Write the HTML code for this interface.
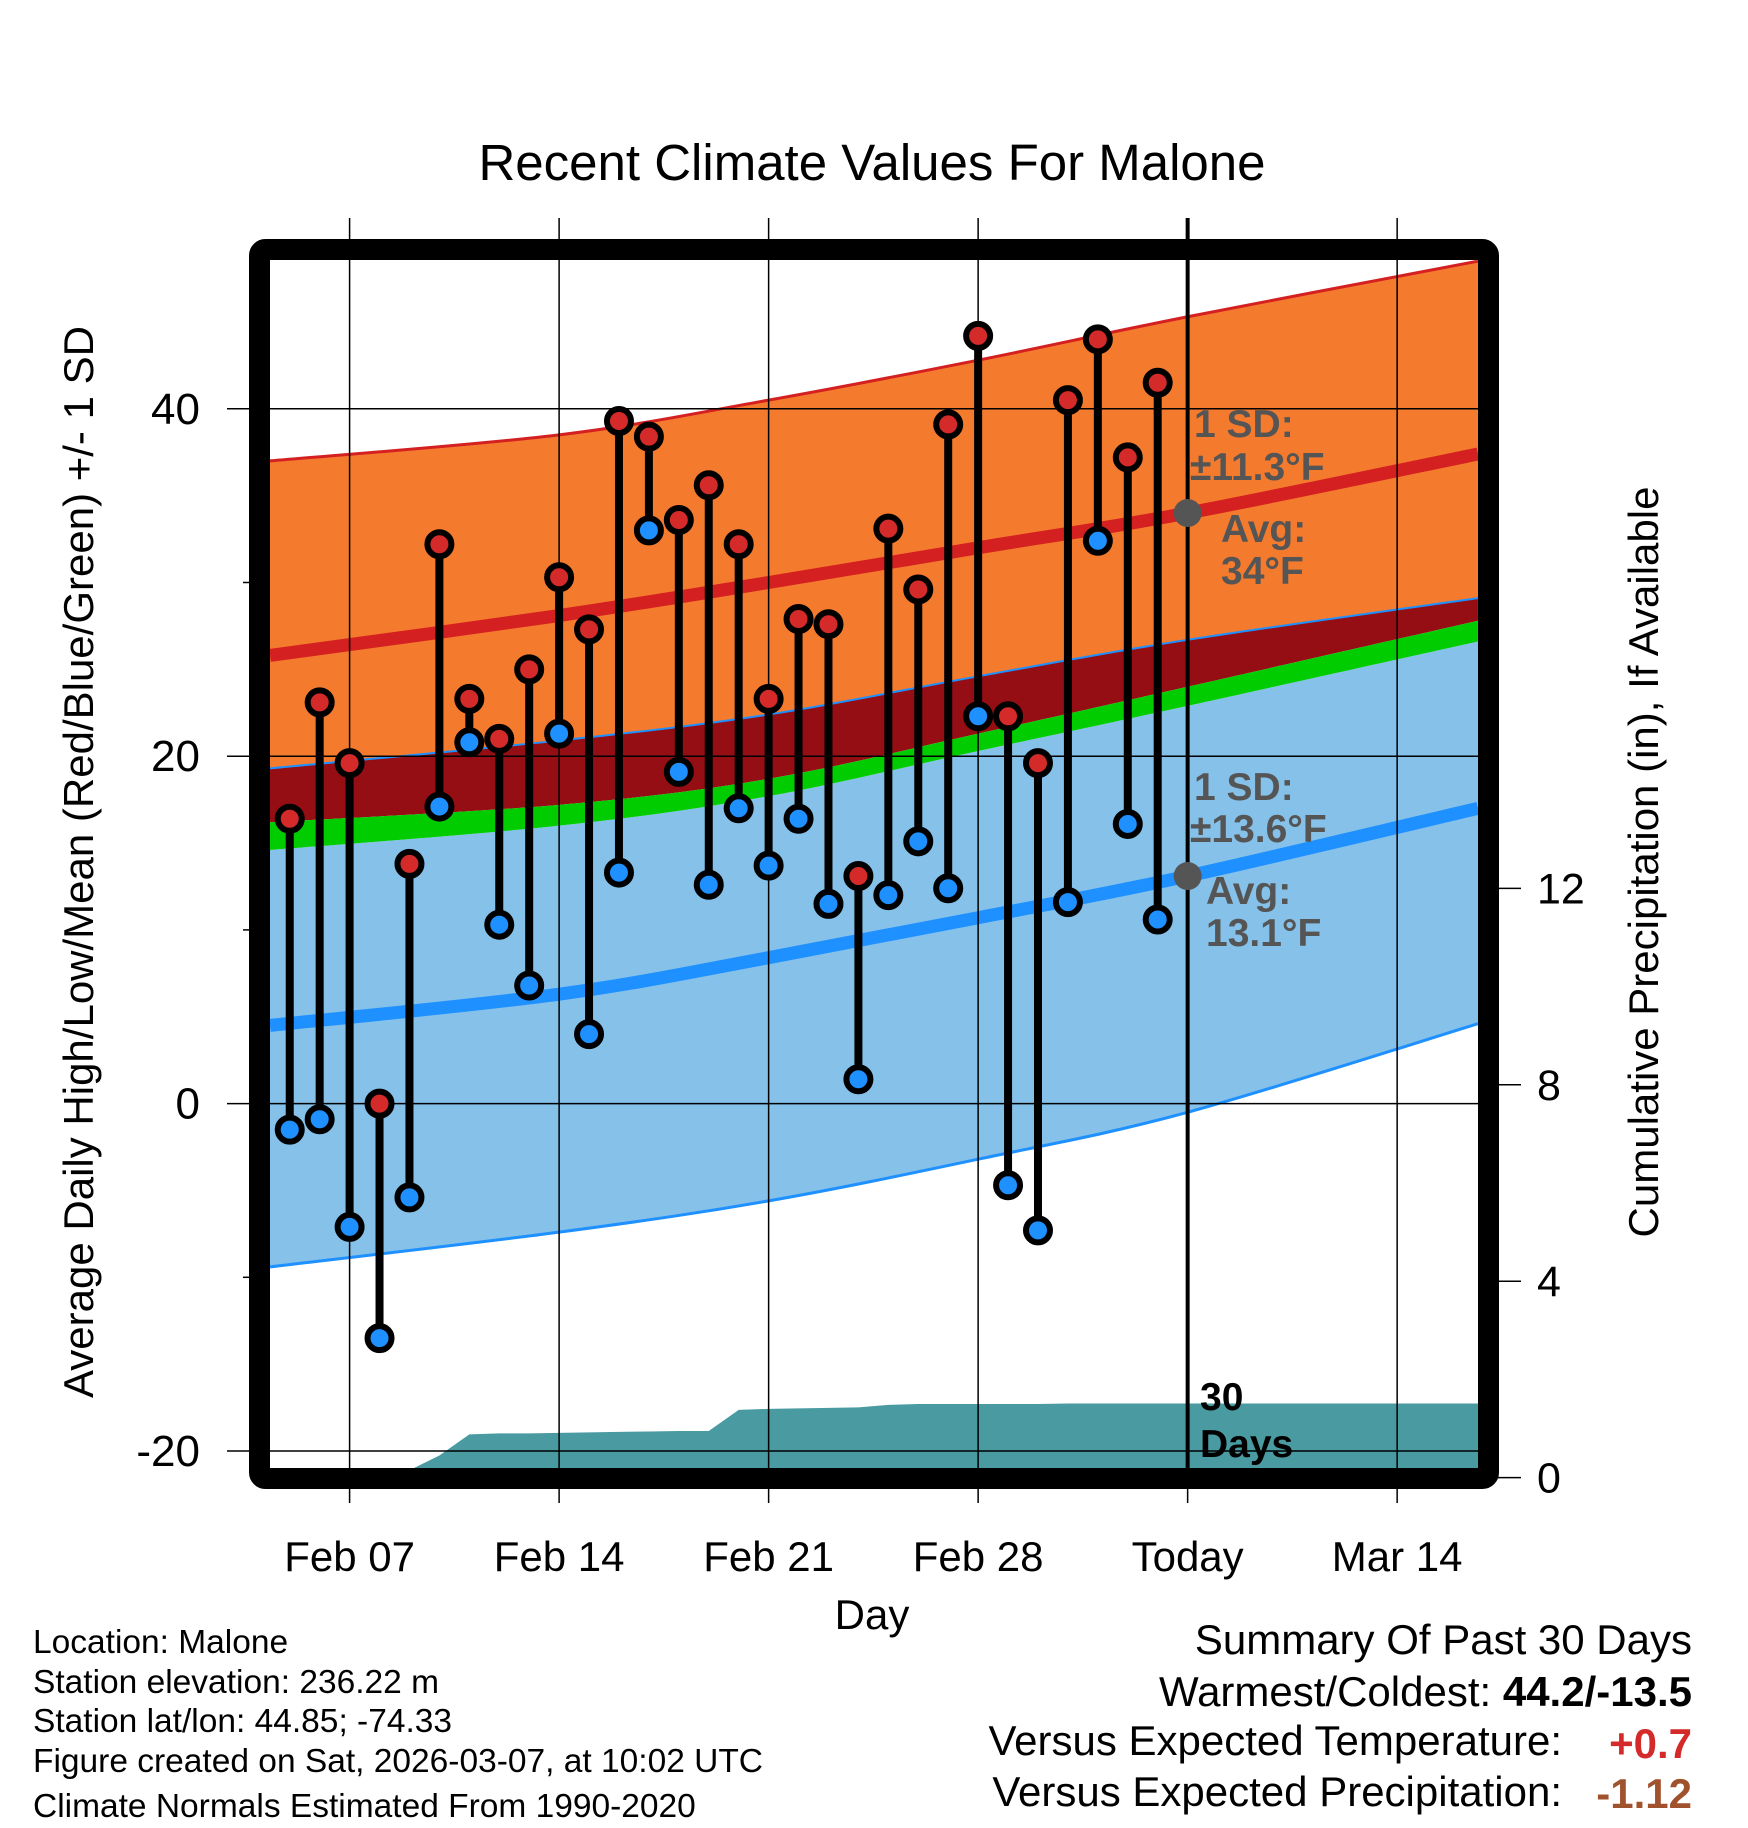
<!DOCTYPE html>
<html><head><meta charset="utf-8"><style>
html,body{margin:0;padding:0;background:#fff}
svg{display:block;font-family:"Liberation Sans",Arial,sans-serif}
</style></head><body>
<svg id="chart" width="1748" height="1828" viewBox="0 0 1748 1828" xmlns="http://www.w3.org/2000/svg">
<defs><clipPath id="plotclip"><rect x="270" y="260" width="1208" height="1208"/></clipPath></defs>
<text x="872" y="180" font-size="51" text-anchor="middle">Recent Climate Values For Malone</text>
<g id="bands" clip-path="url(#plotclip)"></g>
<g id="grid"></g>
<g id="marks" clip-path="url(#plotclip)"></g>
<rect x="259.5" y="249.5" width="1229" height="1229" fill="none" stroke="#000" stroke-width="21" stroke-linejoin="round" rx="6"/>
<g id="pts"></g>
<g id="annot" font-weight="bold" font-size="39" fill="#555">
<text x="1194" y="437">1 SD:</text>
<text x="1190" y="480">±11.3°F</text>
<text x="1221" y="542">Avg:</text>
<text x="1221" y="584">34°F</text>
<text x="1194" y="800">1 SD:</text>
<text x="1190" y="842">±13.6°F</text>
<text x="1206" y="904">Avg:</text>
<text x="1206" y="946">13.1°F</text>
<text x="1200" y="1410" fill="#000">30</text>
<text x="1200" y="1457" fill="#000">Days</text>
</g>
<text transform="translate(93,862) rotate(-90)" font-size="42" text-anchor="middle">Average Daily High/Low/Mean (Red/Blue/Green) +/- 1 SD</text>
<text transform="translate(1658,862) rotate(-90)" font-size="42" text-anchor="middle">Cumulative Precipitation (in), If Available</text>
<text x="872" y="1629" font-size="42" text-anchor="middle">Day</text>
<g font-size="33.5">
<text x="33" y="1653">Location: Malone</text>
<text x="33" y="1693">Station elevation: 236.22 m</text>
<text x="33" y="1732">Station lat/lon: 44.85; -74.33</text>
<text x="33" y="1772">Figure created on Sat, 2026-03-07, at 10:02 UTC</text>
<text x="33" y="1817">Climate Normals Estimated From 1990-2020</text>
</g>
<g font-size="42" text-anchor="end">
<text x="1692" y="1654">Summary Of Past 30 Days</text>
<text x="1692" y="1706">Warmest/Coldest: <tspan font-weight="bold">44.2/-13.5</tspan></text>
<text x="1562" y="1755">Versus Expected Temperature:</text>
<text x="1692" y="1758" font-weight="bold" fill="#d42a2a">+0.7</text>
<text x="1562" y="1806">Versus Expected Precipitation:</text>
<text x="1692" y="1808" font-weight="bold" fill="#a0522d">-1.12</text>
</g>
</svg>
<script>
// ---- data ----
const bandDays = [-2.66, 7, 14, 21, 28, 37.7];
const highUpper = [37.0, 38.5, 40.5, 42.8, 45.3, 48.5];
const highMean = [25.8, 28.1, 30.0, 32.0, 34.0, 37.4];
const highLower = [19.3, 20.9, 22.4, 24.6, 26.7, 29.1];
const greenTop = [16.2, 17.2, 18.7, 21.3, 24.0, 27.8];
const greenBot = [14.6, 16.0, 17.7, 20.3, 22.9, 26.6];
const lowMean = [4.5, 6.3, 8.4, 10.7, 13.1, 17.0];
const lowLower = [-9.4, -7.4, -5.6, -3.2, -0.5, 4.6];
const obsDays = [-2,-1,0,1,2,3,4,5,6,7,8,9,10,11,12,13,14,15,16,17,18,19,20,21,22,23,24,25,26,27];
const highs = [16.4,23.1,19.6,0.0,13.8,32.2,23.3,21.0,25.0,30.3,27.3,39.3,38.4,33.6,35.6,32.2,23.3,27.9,27.6,13.1,33.1,29.6,39.1,44.2,22.3,19.6,40.5,44.0,37.2,41.5];
const lows = [-1.5,-0.9,-7.1,-13.5,-5.4,17.1,20.8,10.3,6.8,21.3,4.0,13.3,33.0,19.1,12.6,17.0,13.7,16.4,11.5,1.4,12.0,15.1,12.4,22.3,-4.7,-7.3,11.6,32.4,16.1,10.6];
const precip = [0,0,0,0,0.15,0.45,0.88,0.90,0.90,0.91,0.92,0.93,0.94,0.95,0.95,1.38,1.40,1.41,1.42,1.43,1.48,1.50,1.50,1.50,1.50,1.50,1.51,1.51,1.51,1.51];
const xTickDays = [0,7,14,21,28,35];
const xTickLabels = ["Feb 07","Feb 14","Feb 21","Feb 28","Today","Mar 14"];
const yTicks = [40,20,0,-20];
const yMinor = [30,10,-10];
const pTicks = [0,4,8,12];
const todayDay = 28;
const highAvgToday = 34.0, lowAvgToday = 13.1;
// ---- scales ----
const X = d => 349.6 + 29.93*d;
const Y = v => 1103.6 - 17.37*v;
const P = p => 1477.6 - 49.1*p;
const NS = "http://www.w3.org/2000/svg";
function mk(tag, attrs, parent){const e=document.createElementNS(NS,tag);for(const k in attrs)e.setAttribute(k,attrs[k]);parent.appendChild(e);return e;}
// smooth curve (Catmull-Rom) through band points
function pts(vals){return bandDays.map((d,i)=>[X(d),Y(vals[i])]);}
function crPath(p, move){
  let s=(move?"M":"L")+p[0][0]+","+p[0][1];
  for(let i=0;i<p.length-1;i++){
    const p0=p[Math.max(i-1,0)],p1=p[i],p2=p[i+1],p3=p[Math.min(i+2,p.length-1)];
    const c1=[p1[0]+(p2[0]-p0[0])/6,p1[1]+(p2[1]-p0[1])/6];
    const c2=[p2[0]-(p3[0]-p1[0])/6,p2[1]-(p3[1]-p1[1])/6];
    s+=" C"+c1[0]+","+c1[1]+" "+c2[0]+","+c2[1]+" "+p2[0]+","+p2[1];
  }
  return s;
}
function line(vals){return crPath(pts(vals),true);}
function area(up,lo){return crPath(pts(up),true)+" "+crPath(pts(lo).reverse(),false)+" Z";}
const bands=document.getElementById('bands');
let e;
e=mk('path',{d:area(greenBot,lowLower),fill:'#85c1e9'},bands);


e=mk('path',{d:area(highLower,greenTop),fill:'#940e14'},bands);


e=mk('path',{d:area(greenTop,greenBot),fill:'#00cc00'},bands);


e=mk('path',{d:area(highUpper,highLower),fill:'#f47a2e'},bands);


e=mk('path',{d:line(highUpper),fill:'none',stroke:'#d42020','stroke-width':3},bands);


e=mk('path',{d:line(highLower),fill:'none',stroke:'#1e90ff','stroke-width':2},bands);


e=mk('path',{d:line(lowLower),fill:'none',stroke:'#1e90ff','stroke-width':3},bands);


e=mk('path',{d:line(highMean),fill:'none',stroke:'#d42020','stroke-width':13},bands);


e=mk('path',{d:line(lowMean),fill:'none',stroke:'#1e90ff','stroke-width':13},bands);


// precip area
let pp=[X(obsDays[0])+","+P(0)];
obsDays.forEach((d,i)=>pp.push(X(d)+","+P(precip[i])));
pp.push("1478,"+P(precip[precip.length-1]));pp.push("1478,"+P(0));
e=mk('polygon',{points:pp.join(" "),fill:'#4a9aa2'},bands);


// grid
const grid=document.getElementById('grid');
xTickDays.forEach((d,i)=>{
  e=mk('line',{x1:X(d),x2:X(d),y1:218,y2:1503,stroke:'#000','stroke-width':1.5},grid);
  
  
  e=mk('text',{x:X(d),y:1571,'font-size':42,'text-anchor':'middle'},grid);
  e.textContent=xTickLabels[i];
  
  
});
yTicks.forEach(v=>{
  e=mk('line',{x1:227,x2:1478,y1:Y(v),y2:Y(v),stroke:'#000','stroke-width':1.5},grid);
  
  
  e=mk('text',{x:200,y:Y(v)+15,'font-size':44,'text-anchor':'end'},grid);
  e.textContent=v;
  
  
});
yMinor.forEach(v=>{
  e=mk('line',{x1:243,x2:255,y1:Y(v),y2:Y(v),stroke:'#000','stroke-width':1.5},grid);
  
  
});
pTicks.forEach(p=>{
  e=mk('line',{x1:1498,x2:1521,y1:P(p),y2:P(p),stroke:'#000','stroke-width':1.5},grid);
  
  
  e=mk('text',{x:1537,y:P(p)+15,'font-size':43},grid);
  e.textContent=p;
  
  
});
e=mk('line',{x1:X(todayDay),x2:X(todayDay),y1:218,y2:1478,stroke:'#000','stroke-width':4},grid);


// obs
const ptsG=document.getElementById('pts');
obsDays.forEach((d,i)=>{
  e=mk('line',{x1:X(d),x2:X(d),y1:Y(highs[i]),y2:Y(lows[i]),stroke:'#000','stroke-width':8},ptsG);
  
  
});
obsDays.forEach((d,i)=>{
  e=mk('circle',{cx:X(d),cy:Y(highs[i]),r:12,fill:'#d42a2a',stroke:'#000','stroke-width':6},ptsG);
  
  
  e=mk('circle',{cx:X(d),cy:Y(lows[i]),r:12,fill:'#1e90ff',stroke:'#000','stroke-width':6},ptsG);
  
  
});
e=mk('circle',{cx:X(todayDay),cy:Y(highAvgToday),r:14,fill:'#555'},ptsG);


e=mk('circle',{cx:X(todayDay),cy:Y(lowAvgToday),r:14,fill:'#555'},ptsG);


</script>
</body></html>
